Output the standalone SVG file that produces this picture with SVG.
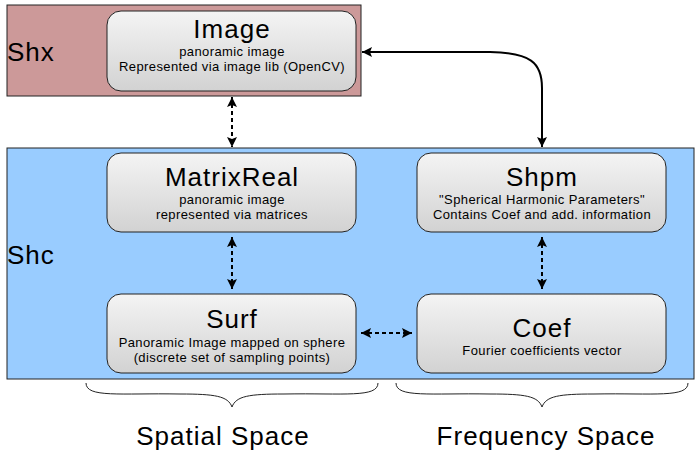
<svg xmlns="http://www.w3.org/2000/svg" width="699" height="453" viewBox="0 0 699 453">
<style>
text{font-family:"Liberation Sans",Arial,sans-serif;fill:#000}
.t{font-size:26px;text-anchor:middle;letter-spacing:1px}
.s{font-size:13px;text-anchor:middle;letter-spacing:0.4px}
.lbl{font-size:26px;letter-spacing:1px}
.node{fill:url(#g);stroke:#222;stroke-width:1}
.c{fill:none;stroke:#000;stroke-width:2}
.d{stroke-dasharray:4 3}
.br{fill:none;stroke:#222;stroke-width:1}
</style>
<defs>
<linearGradient id="g" x1="0" y1="0" x2="0" y2="1">
<stop offset="0" stop-color="#f4f4f4"/>
<stop offset="1" stop-color="#d2d2d2"/>
</linearGradient>
<marker id="a" viewBox="0 0 10 10" refX="10" refY="5" markerWidth="5" markerHeight="5" orient="auto-start-reverse" markerUnits="strokeWidth">
<path d="M0,0 L10,5 L0,10 L2,5 z" fill="#000"/>
</marker>
</defs>
<g id="shx">
<rect x="7" y="5" width="354" height="91" fill="#cc9999" stroke="#222" stroke-width="1"/>
<text class="lbl" x="7" y="61">Shx</text>
</g>
<g id="shc">
<rect x="7" y="148" width="687" height="231" fill="#99ccff" stroke="#222" stroke-width="1"/>
<text class="lbl" x="7" y="264">Shc</text>
</g>
<g id="image">
<rect class="node" x="107" y="11" width="249" height="80" rx="14"/>
<text class="t" x="232" y="38">Image</text>
<text class="s" x="232" y="56">panoramic image</text>
<text class="s" x="232" y="71">Represented via image lib (OpenCV)</text>
</g>
<g id="matrixreal">
<rect class="node" x="107" y="153" width="249" height="79" rx="14"/>
<text class="t" x="232" y="186">MatrixReal</text>
<text class="s" x="232" y="204">panoramic image</text>
<text class="s" x="232" y="219">represented via matrices</text>
</g>
<g id="shpm">
<rect class="node" x="417" y="153" width="249" height="79" rx="14"/>
<text class="t" x="542" y="186">Shpm</text>
<text class="s" x="542" y="204">"Spherical Harmonic Parameters"</text>
<text class="s" x="542" y="219">Contains Coef and add. information</text>
</g>
<g id="surf">
<rect class="node" x="107" y="294" width="249" height="79" rx="14"/>
<text class="t" x="232" y="328">Surf</text>
<text class="s" x="232" y="347">Panoramic Image mapped on sphere</text>
<text class="s" x="232" y="362">(discrete set of sampling points)</text>
</g>
<g id="coef">
<rect class="node" x="417" y="294" width="249" height="79" rx="14"/>
<text class="t" x="542" y="337">Coef</text>
<text class="s" x="542" y="355">Fourier coefficients vector</text>
</g>
<g id="connectors">
<path class="c d" d="M232,97 L232,147" marker-start="url(#a)" marker-end="url(#a)"/>
<path class="c d" d="M232,237 L232,289" marker-start="url(#a)" marker-end="url(#a)"/>
<path class="c d" d="M542,237 L542,289" marker-start="url(#a)" marker-end="url(#a)"/>
<path class="c d" d="M361,333 L412,333" marker-start="url(#a)" marker-end="url(#a)"/>
<path class="c" d="M362,52 L490,52 C530,53 542,62 542,88 L542,147" marker-start="url(#a)" marker-end="url(#a)"/>
</g>
<g id="braces">
<path class="br" d="M86,383 C86,398 120,393 180,394 C215,394 228,396 232,407 C236,396 249,394 284,394 C344,393 378,398 378,383"/>
<path class="br" d="M396,383 C396,398 430,393 490,394 C525,394 538,396 542,407 C546,396 559,394 594,394 C654,393 688,398 688,383"/>
</g>
<text class="t" x="223" y="445">Spatial Space</text>
<text class="t" x="546" y="445">Frequency Space</text>
</svg>
